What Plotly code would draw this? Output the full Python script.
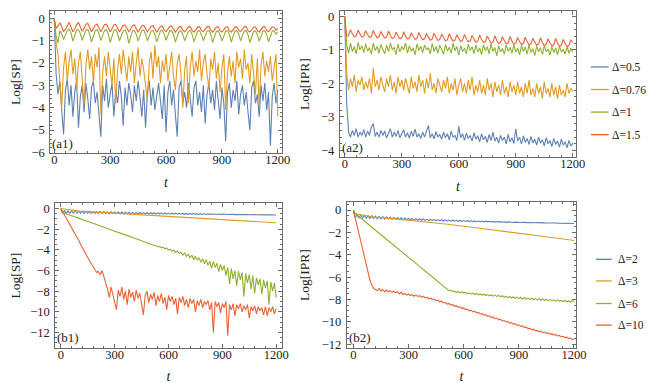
import plotly.graph_objects as go

# time grid of the sampled curves
T = list(range(0, 1201, 10))
T_COARSE = list(range(0, 1201, 100))

# ---------- (a1) Log[SP], Delta = 0.5, 0.76, 1, 1.5 ----------
a1_d05 = [0.0, -2.5, -3.4, -2.8, -4.1, -5.2, -3.2, -2.7, -3.9, -3.0,
          -4.4, -3.3, -2.8, -4.9, -3.5, -3.0, -4.2, -2.9, -3.6, -4.5,
          -3.1, -2.8, -3.8, -3.3, -4.3, -5.3, -3.0, -3.7, -2.7, -4.0,
          -3.4, -2.9, -4.4, -3.2, -3.8, -2.8, -3.5, -4.8, -3.1, -3.9,
          -2.9, -3.4, -4.2, -3.0, -3.7, -2.8, -3.5, -4.4, -3.2, -4.9,
          -3.3, -2.8, -3.9, -3.1, -4.1, -3.4, -2.9, -3.7, -4.5, -3.0,
          -5.1, -3.3, -2.8, -3.9, -3.2, -4.3, -5.3, -3.1, -2.8, -3.8,
          -3.3, -4.0, -2.9, -3.6, -4.4, -3.1, -2.8, -3.9, -3.3, -4.2,
          -3.0, -4.7, -3.4, -2.9, -3.8, -3.2, -4.1, -2.8, -3.6, -4.5,
          -3.1, -3.8, -5.5, -3.3, -2.9, -4.0, -3.2, -3.7, -2.8, -4.3,
          -3.4, -3.0, -3.9, -3.3, -4.2, -5.0, -3.1, -2.8, -3.8, -3.4,
          -4.4, -3.0, -3.7, -2.9, -4.1, -3.3, -5.7, -3.5, -2.9, -3.8,
          -3.2]
a1_d076 = [0.0, -1.1, -1.6, -2.6, -4.0, -2.2, -1.5, -2.8, -1.9, -1.4,
           -2.5, -1.8, -3.1, -2.0, -1.5, -2.7, -3.9, -2.1, -1.4, -2.3,
           -1.7, -2.9, -1.6, -2.2, -1.3, -4.3, -2.4, -1.7, -2.6, -1.5,
           -2.2, -3.0, -1.8, -3.8, -2.3, -1.6, -2.5, -1.4, -2.1, -2.8,
           -1.7, -2.4, -1.5, -2.9, -2.0, -1.3, -2.6, -1.8, -2.3, -3.0,
           -3.7, -2.0, -1.5, -2.7, -1.2, -2.2, -1.7, -2.9, -1.9, -2.4,
           -1.6, -2.8, -2.1, -1.5, -2.6, -3.2, -2.0, -1.6, -2.5, -4.0,
           -2.3, -1.7, -3.8, -2.2, -1.5, -2.6, -1.9, -2.4, -1.4, -2.8,
           -2.0, -1.6, -2.5, -3.1, -1.8, -2.3, -1.5, -2.7, -2.0, -3.3,
           -2.2, -1.6, -4.1, -2.4, -1.7, -2.6, -1.9, -2.9, -1.5, -2.2,
           -1.8, -2.7, -1.4, -2.3, -2.0, -2.9, -1.6, -2.4, -3.4, -1.8,
           -3.9, -2.1, -1.5, -2.6, -1.9, -2.4, -1.7, -2.8, -2.1, -1.6,
           -4.4]
a1_d1 = [0.0, -0.8, -1.1, -0.55, -0.7, -0.95, -0.75, -0.55, -0.48, -0.66,
         -1.02, -0.72, -0.52, -0.5, -0.68, -0.98, -0.7, -0.52, -0.5, -0.7,
         -1.05, -0.74, -0.55, -0.5, -0.68, -1.0, -0.72, -0.53, -0.52, -0.7,
         -1.08, -0.75, -0.55, -0.5, -0.69, -1.0, -0.76, -0.56, -0.52, -0.7,
         -1.12, -0.78, -0.56, -0.54, -0.72, -1.02, -0.75, -0.55, -0.52, -0.7,
         -1.0, -0.76, -0.57, -0.54, -0.72, -1.05, -0.77, -0.56, -0.53, -0.71,
         -0.98, -0.75, -0.56, -0.55, -0.72, -1.06, -0.78, -0.58, -0.55, -0.73,
         -1.0, -0.77, -0.57, -0.54, -0.72, -1.04, -0.78, -0.57, -0.55, -0.73,
         -1.0, -0.76, -0.56, -0.54, -0.72, -1.08, -0.78, -0.58, -0.56, -0.74,
         -1.02, -0.77, -0.57, -0.55, -0.73, -1.06, -0.78, -0.57, -0.55, -0.72,
         -1.0, -0.77, -0.56, -0.55, -0.73, -1.08, -0.78, -0.58, -0.56, -0.74,
         -1.02, -0.77, -0.57, -0.55, -0.73, -1.05, -0.78, -0.57, -0.55, -0.7,
         -0.6]
a1_d15 = [0.0, -0.45, -0.35, -0.2, -0.38, -0.58, -0.5, -0.3, -0.18, -0.4,
          -0.6, -0.48, -0.28, -0.2, -0.42, -0.58, -0.45, -0.27, -0.22, -0.44,
          -0.6, -0.46, -0.3, -0.25, -0.46, -0.6, -0.44, -0.28, -0.26, -0.47,
          -0.6, -0.47, -0.3, -0.27, -0.48, -0.61, -0.46, -0.31, -0.3, -0.49,
          -0.6, -0.48, -0.33, -0.3, -0.5, -0.62, -0.47, -0.34, -0.32, -0.5,
          -0.61, -0.48, -0.35, -0.33, -0.51, -0.62, -0.49, -0.36, -0.34, -0.52,
          -0.6, -0.48, -0.37, -0.35, -0.52, -0.62, -0.5, -0.38, -0.36, -0.53,
          -0.61, -0.5, -0.38, -0.37, -0.54, -0.62, -0.5, -0.39, -0.37, -0.54,
          -0.6, -0.49, -0.38, -0.36, -0.53, -0.62, -0.5, -0.39, -0.38, -0.55,
          -0.61, -0.5, -0.4, -0.38, -0.55, -0.62, -0.5, -0.39, -0.37, -0.54,
          -0.6, -0.49, -0.38, -0.37, -0.55, -0.61, -0.5, -0.4, -0.38, -0.55,
          -0.62, -0.5, -0.39, -0.37, -0.54, -0.6, -0.48, -0.38, -0.4, -0.52,
          -0.45]

# ---------- (a2) Log[IPR], Delta = 0.5, 0.76, 1, 1.5 ----------
a2_d05 = [0.0,
          -2.6, -3.45, -3.6, -3.4, -3.55, -3.35, -3.6, -3.45, -3.55, -3.38,
          -3.6, -3.42, -3.55, -3.3, -3.2, -3.58, -3.45, -3.6, -3.4, -3.55,
          -3.42, -3.62, -3.48, -3.35, -3.6, -3.45, -3.58, -3.4, -3.62, -3.5,
          -3.38, -3.6, -3.47, -3.63, -3.42, -3.58, -3.36, -3.6, -3.5, -3.64,
          -3.45, -3.6, -3.4, -3.25, -3.62, -3.5, -3.65, -3.44, -3.6, -3.52,
          -3.66, -3.45, -3.62, -3.5, -3.68, -3.42, -3.6, -3.55, -3.7, -3.28,
          -3.62, -3.5, -3.7, -3.48, -3.64, -3.55, -3.72, -3.47, -3.66, -3.56,
          -3.74, -3.5, -3.68, -3.58, -3.76, -3.52, -3.7, -3.45, -3.72, -3.6,
          -3.78, -3.55, -3.7, -3.6, -3.8, -3.52, -3.74, -3.62, -3.79, -3.35,
          -3.72, -3.6, -3.8, -3.56, -3.76, -3.64, -3.82, -3.58, -3.77, -3.66,
          -3.84, -3.6, -3.78, -3.68, -3.86, -3.62, -3.8, -3.7, -3.88, -3.64,
          -3.82, -3.72, -3.9, -3.66, -3.84, -3.74, -3.92, -3.7, -3.86, -3.78]
a2_d076 = [0.0,
           -1.7, -2.2, -1.85, -2.1, -1.75, -2.25, -1.9, -2.05, -1.8, -2.2,
           -1.95, -2.15, -1.85, -2.3, -1.55, -2.1, -1.9, -2.2, -1.8, -2.05,
           -2.25, -1.85, -2.1, -1.75, -2.2, -1.95, -2.3, -1.8, -2.1, -1.9,
           -2.2, -1.85, -2.05, -2.3, -1.8, -2.15, -1.95, -2.25, -1.75, -2.1,
           -1.9, -2.3, -1.85, -2.15, -1.7, -2.2, -2.0, -2.3, -1.85, -2.1,
           -2.25, -1.9, -2.15, -1.8, -2.3, -2.0, -2.2, -1.85, -2.35, -2.05,
           -1.85, -2.25, -2.0, -2.3, -1.9, -2.2, -1.8, -2.35, -2.05, -2.25,
           -1.9, -2.3, -2.05, -2.35, -1.85, -2.2, -2.0, -2.4, -1.95, -2.25,
           -2.05, -2.35, -1.9, -2.3, -2.1, -2.4, -1.95, -2.25, -2.05, -2.35,
           -1.95, -2.3, -2.1, -2.4, -2.0, -2.3, -1.9, -2.35, -2.15, -2.4,
           -2.0, -2.3, -2.1, -2.45, -1.95, -2.3, -2.15, -2.4, -2.0, -2.35,
           -2.1, -2.45, -2.05, -2.35, -2.2, -2.4, -2.0, -2.3, -2.15, -2.25]
a2_d1 = [-0.1,
         -0.85, -1.1, -0.8, -1.05, -0.9, -1.12, -0.78, -1.0, -0.88, -1.08,
         -0.82, -1.04, -0.93, -1.13, -0.8, -1.02, -0.9, -1.1, -0.84, -0.98,
         -1.12, -0.86, -1.05, -0.79, -1.0, -0.92, -1.14, -0.83, -1.06, -0.9,
         -1.0, -0.8, -1.1, -0.88, -1.04, -0.94, -1.15, -0.82, -1.02, -0.89,
         -1.08, -0.85, -1.0, -0.93, -1.12, -0.81, -1.05, -0.9, -1.1, -0.86,
         -0.99, -1.13, -0.84, -1.04, -0.92, -1.1, -0.8, -1.03, -0.9, -1.16,
         -0.87, -1.05, -0.95, -1.12, -0.83, -1.02, -0.91, -1.11, -0.86, -1.06,
         -0.94, -1.14, -0.85, -1.03, -0.9, -1.12, -0.82, -1.05, -0.93, -1.18,
         -0.88, -1.06, -0.96, -1.13, -0.86, -1.04, -0.92, -1.1, -0.84, -1.07,
         -0.95, -1.15, -0.87, -1.05, -0.91, -1.13, -0.85, -1.08, -0.96, -1.17,
         -0.89, -1.06, -0.93, -1.14, -0.87, -1.05, -0.98, -1.16, -0.9, -1.08,
         -0.94, -1.15, -0.88, -1.06, -0.99, -1.13, -0.9, -1.1, -0.95, -1.08]
a2_d15 = [0.0,
          -0.6, -0.57, -0.4, -0.52, -0.61, -0.58, -0.41, -0.53,
          -0.62, -0.59, -0.43, -0.54, -0.63, -0.6, -0.42, -0.55,
          -0.64, -0.61, -0.45, -0.56, -0.65, -0.62, -0.44, -0.57,
          -0.66, -0.63, -0.47, -0.58, -0.67, -0.64, -0.46, -0.59,
          -0.68, -0.65, -0.49, -0.6, -0.69, -0.66, -0.48, -0.61,
          -0.7, -0.67, -0.51, -0.62, -0.71, -0.68, -0.5, -0.63,
          -0.72, -0.69, -0.53, -0.64, -0.73, -0.7, -0.52, -0.65,
          -0.74, -0.71, -0.55, -0.66, -0.75, -0.72, -0.54, -0.67,
          -0.76, -0.73, -0.57, -0.68, -0.77, -0.74, -0.56, -0.69,
          -0.78, -0.75, -0.59, -0.7, -0.8, -0.77, -0.58, -0.72,
          -0.81, -0.78, -0.61, -0.73, -0.82, -0.79, -0.6, -0.74,
          -0.83, -0.8, -0.63, -0.75, -0.84, -0.81, -0.62, -0.76,
          -0.85, -0.82, -0.65, -0.77, -0.86, -0.83, -0.64, -0.78,
          -0.87, -0.84, -0.67, -0.79, -0.88, -0.85, -0.66, -0.8,
          -0.89, -0.86, -0.69, -0.81, -0.9, -0.87, -0.7, -0.78]

# ---------- (b1) Log[SP], Delta = 2, 3, 6, 10 ----------
b1_d2 = [0.0,
         -0.45, -0.2, -0.45, -0.22, -0.46, -0.22, -0.45, -0.24, -0.46, -0.24,
         -0.46, -0.25, -0.46, -0.26, -0.47, -0.27, -0.47, -0.28, -0.47, -0.29,
         -0.48, -0.3, -0.48, -0.3, -0.48, -0.31, -0.49, -0.32, -0.49, -0.33,
         -0.49, -0.33, -0.5, -0.34, -0.5, -0.35, -0.5, -0.36, -0.51, -0.37,
         -0.51, -0.37, -0.51, -0.38, -0.52, -0.39, -0.52, -0.4, -0.52, -0.4,
         -0.53, -0.41, -0.53, -0.42, -0.53, -0.42, -0.54, -0.43, -0.54, -0.44,
         -0.54, -0.45, -0.55, -0.45, -0.55, -0.46, -0.55, -0.47, -0.56, -0.47,
         -0.56, -0.48, -0.56, -0.49, -0.56, -0.5, -0.57, -0.5, -0.57, -0.51,
         -0.57, -0.52, -0.57, -0.52, -0.58, -0.53, -0.58, -0.53, -0.58, -0.54,
         -0.58, -0.55, -0.58, -0.55, -0.59, -0.56, -0.59, -0.56, -0.59, -0.57,
         -0.59, -0.57, -0.6, -0.58, -0.6, -0.58, -0.6, -0.59, -0.6, -0.59,
         -0.61, -0.6, -0.61, -0.6, -0.61, -0.61, -0.62, -0.61, -0.62, -0.62]
b1_d3 = [0.0, -0.25, -0.35, -0.45, -0.55, -0.65, -0.75, -0.85, -0.95, -1.05,
         -1.15, -1.27, -1.38]
b1_d6 = [0.0, -0.3, -0.45, -0.5, -0.58, -0.63, -0.7, -0.76, -0.82, -0.88,
         -0.93, -1.0, -1.06, -1.12, -1.19, -1.25, -1.31, -1.38, -1.44, -1.5,
         -1.56, -1.62, -1.69, -1.75, -1.81, -1.88, -1.94, -2.0, -2.07, -2.13,
         -2.18, -2.25, -2.31, -2.37, -2.44, -2.5, -2.55, -2.63, -2.68, -2.75,
         -2.8, -2.87, -2.93, -3.0, -3.05, -3.13, -3.17, -3.26, -3.3, -3.39,
         -3.42,
         -3.5, -3.58, -3.6, -3.7, -3.66, -3.8, -3.75, -3.88, -3.84, -4.0,
         -3.95, -4.12, -4.02, -4.25, -4.12, -4.35, -4.22, -4.5, -4.3, -4.62,
         -4.45, -4.75, -4.5, -4.95, -4.62, -5.0, -4.75, -5.2, -4.85, -5.35,
         -4.95, -5.5, -5.1, -5.8, -5.15, -5.7, -5.3, -6.1, -5.4, -6.0,
         -5.5, -6.5, -5.7, -7.3, -5.8, -6.8, -6.0, -7.5, -6.05, -6.9,
         -6.2, -8.5, -6.3, -7.2, -6.4, -7.8, -6.5, -8.2, -6.7, -7.4,
         -6.8, -8.3, -6.9, -7.7, -7.0, -9.3, -7.1, -8.0, -7.2, -8.6]
b1_d10 = [0.0, -0.3, -0.6, -0.9, -1.2, -1.5, -1.8, -2.1, -2.45, -2.8,
          -3.1, -3.45, -3.8, -4.1, -4.4, -4.75, -5.05, -5.35, -5.6, -5.95,
          -6.2, -6.1, -6.4, -6.0, -6.5, -7.2,
          -7.8, -8.6, -7.6, -8.3, -9.0, -9.8, -7.9, -8.5, -7.6, -8.8,
          -8.0, -9.3, -7.8, -8.6, -8.1, -9.0, -7.9, -8.7, -8.2, -9.5,
          -10.3, -8.4, -8.0, -9.1, -8.3, -8.8, -8.1, -9.4, -8.4, -9.0,
          -8.2, -9.2, -8.6, -9.8, -8.4, -9.0, -8.5, -9.3, -8.7, -10.2,
          -8.6, -9.1, -8.5, -9.4, -8.8, -9.6, -8.7, -9.2, -8.8, -10.0,
          -8.9, -9.4, -8.8, -9.6, -9.0, -9.3, -8.9, -9.8, -9.1, -12.0,
          -9.0, -9.5, -9.1, -10.1, -9.2, -9.6, -9.0, -12.3, -9.3, -9.8,
          -9.2, -10.4, -9.3, -9.7, -9.2, -10.0, -9.4, -9.8, -9.3, -10.6,
          -9.5, -9.9, -9.4, -10.2, -9.5, -9.9, -9.6, -10.3, -9.5, -10.4,
          -9.6, -10.0, -9.5, -10.2, -9.7]

# ---------- (b2) Log[IPR], Delta = 2, 3, 6, 10 ----------
b2_d2 = [0.0,
         -0.68, -0.4, -0.7, -0.44, -0.72, -0.47, -0.73, -0.5, -0.75, -0.52,
         -0.77, -0.55, -0.78, -0.57, -0.8, -0.6, -0.81, -0.62, -0.82, -0.64,
         -0.84, -0.66, -0.85, -0.68, -0.86, -0.7, -0.87, -0.72, -0.88, -0.74,
         -0.89, -0.75, -0.9, -0.77, -0.91, -0.78, -0.92, -0.8, -0.93, -0.81,
         -0.94, -0.83, -0.95, -0.84, -0.96, -0.86, -0.97, -0.87, -0.98, -0.88,
         -0.99, -0.9, -1.0, -0.91, -1.0, -0.92, -1.01, -0.93, -1.02, -0.94,
         -1.02, -0.95, -1.03, -0.96, -1.04, -0.97, -1.04, -0.98, -1.05, -0.99,
         -1.06, -1.0, -1.06, -1.01, -1.07, -1.02, -1.08, -1.03, -1.08, -1.04,
         -1.09, -1.05, -1.1, -1.06, -1.1, -1.07, -1.11, -1.08, -1.11, -1.09,
         -1.12, -1.1, -1.13, -1.11, -1.13, -1.12, -1.14, -1.13, -1.14, -1.13,
         -1.15, -1.14, -1.15, -1.15, -1.16, -1.15, -1.16, -1.16, -1.17, -1.16,
         -1.17, -1.17, -1.18, -1.17, -1.18, -1.18, -1.19, -1.18, -1.19, -1.2]
b2_d3 = [-0.3, -0.6, -0.75, -0.9, -1.05, -1.25, -1.45, -1.65, -1.85, -2.05,
         -2.25, -2.5, -2.72]
b2_d6 = [0.0, -0.3, -0.45, -0.58, -0.72, -0.85, -0.99, -1.12, -1.26, -1.4,
         -1.53, -1.67, -1.8, -1.94, -2.07, -2.21, -2.34, -2.48, -2.61, -2.75,
         -2.88, -3.02, -3.15, -3.29, -3.42, -3.56, -3.69, -3.83, -3.96, -4.1,
         -4.23, -4.37, -4.5, -4.64, -4.77, -4.91, -5.04, -5.18, -5.31, -5.45,
         -5.58, -5.72, -5.85, -5.99, -6.12, -6.26, -6.4, -6.55, -6.68, -6.8,
         -6.95,
         -7.05, -7.2, -7.15, -7.3, -7.25, -7.35, -7.28, -7.4, -7.32, -7.42,
         -7.36, -7.48, -7.4, -7.52, -7.42, -7.55, -7.46, -7.58, -7.5, -7.6,
         -7.52, -7.64, -7.55, -7.66, -7.57, -7.7, -7.6, -7.72, -7.63, -7.75,
         -7.66, -7.8, -7.7, -7.83, -7.72, -7.86, -7.75, -7.9, -7.78, -7.92,
         -7.8, -7.95, -7.82, -7.98, -7.85, -8.0, -7.88, -8.02, -7.9, -8.05,
         -7.92, -8.06, -7.95, -8.08, -7.97, -8.1, -8.0, -8.12, -8.02, -8.14,
         -8.04, -8.16, -8.06, -8.18, -8.08, -8.2, -8.1, -8.22, -8.1, -8.2]
b2_d10 = [0.0, -0.7, -1.4, -2.1, -2.85, -3.6, -4.3, -5.0, -5.65, -6.25,
          -6.7, -7.0, -7.1,
          -7.2, -7.0, -7.25, -7.1, -7.3, -7.15, -7.3, -7.2,
          -7.35, -7.25, -7.4, -7.3, -7.5, -7.35, -7.55, -7.45, -7.6, -7.5,
          -7.65, -7.55, -7.7, -7.6, -7.72, -7.65, -7.8, -7.7, -7.85, -7.78,
          -7.95, -7.85, -8.0, -7.95, -8.1, -8.05, -8.2, -8.15, -8.3, -8.25,
          -8.4, -8.35, -8.5, -8.45, -8.6, -8.55, -8.7, -8.65, -8.8, -8.75,
          -8.9, -8.85, -9.0, -8.95, -9.1, -9.05, -9.2, -9.15, -9.3, -9.25,
          -9.4, -9.35, -9.5, -9.45, -9.6, -9.55, -9.7, -9.65, -9.82, -9.75,
          -9.9, -9.85, -10.0, -9.95, -10.1, -10.05, -10.2, -10.15, -10.3, -10.25,
          -10.4, -10.35, -10.5, -10.45, -10.6, -10.55, -10.7, -10.65, -10.78, -10.75,
          -10.88, -10.82, -10.95, -10.9, -11.02, -10.98, -11.1, -11.05, -11.18, -11.12,
          -11.25, -11.2, -11.32, -11.28, -11.4, -11.35, -11.48, -11.42, -11.58, -11.55]

top_labels = ["Δ=0.5", "Δ=0.76", "Δ=1", "Δ=1.5"]
bottom_labels = ["Δ=2", "Δ=3", "Δ=6", "Δ=10"]
panel_tags = ["(a1)", "(a2)", "(b1)", "(b2)"]
ytitles = ["Log[SP]", "Log[IPR]", "Log[SP]", "Log[IPR]"]

COLORS = ["#5E81B5", "#E19C24", "#8FB032", "#EB6235"]
FRAME = "#6a6a6a"
FONT = "Liberation Serif"
W, H = 654, 383

panels = [
    ("x", "y", [(T, a1_d05), (T, a1_d076), (T, a1_d1), (T, a1_d15)]),
    ("x2", "y2", [(T, a2_d05), (T, a2_d076), (T, a2_d1), (T, a2_d15)]),
    ("x3", "y3", [(T, b1_d2), (T_COARSE, b1_d3), (T, b1_d6), (T, b1_d10)]),
    ("x4", "y4", [(T, b2_d2), (T_COARSE, b2_d3), (T, b2_d6), (T, b2_d10)]),
]
names = [top_labels, top_labels, bottom_labels, bottom_labels]

fig = go.Figure()
for (xa, ya, series), labs in zip(panels, names):
    for (xs, ys), c, lab in zip(series, COLORS, labs):
        fig.add_trace(go.Scatter(x=xs, y=ys, mode="lines", name=lab, xaxis=xa, yaxis=ya,
                                 line=dict(color=c, width=1.1), showlegend=False))


def px2x(a, b):
    return [a / W, b / W]


def px2y(top, bottom):
    return [1 - bottom / H, 1 - top / H]


def xaxis(dom, anchor, rng):
    return dict(domain=dom, anchor=anchor, range=rng, tick0=0, dtick=300,
                ticks="inside", ticklen=4, tickcolor=FRAME, tickwidth=1,
                minor=dict(dtick=60, ticks="inside", ticklen=2, tickcolor=FRAME),
                showline=True, linecolor=FRAME, linewidth=1, mirror="allticks",
                showgrid=False, zeroline=False, ticklabelstandoff=-5,
                tickfont=dict(family=FONT, size=12.5, color="#222"),
                title=dict(text="<i>t</i>", standoff=10,
                           font=dict(family=FONT, size=14, color="#222")))


def yaxis(dom, anchor, rng, dt, mdt, title):
    return dict(domain=dom, anchor=anchor, range=rng, tick0=0, dtick=dt,
                ticks="inside", ticklen=4, tickcolor=FRAME, tickwidth=1,
                minor=dict(dtick=mdt, ticks="inside", ticklen=2, tickcolor=FRAME),
                showline=True, linecolor=FRAME, linewidth=1, mirror="allticks",
                showgrid=False, zeroline=False, ticklabelstandoff=2,
                tickfont=dict(family=FONT, size=12.5, color="#222"),
                title=dict(text=title, standoff=8,
                           font=dict(family=FONT, size=13.5, color="#222")))


fig.update_layout(
    width=W, height=H, margin=dict(l=0, r=0, t=0, b=0),
    paper_bgcolor="white", plot_bgcolor="white",
    font=dict(family=FONT, color="#222"),
    xaxis=xaxis(px2x(43, 278), "y", [-21, 1221]),
    yaxis=yaxis(px2y(2, 147), "x", [-6.04, 0.33], 1, 0.2, ytitles[0]),
    xaxis2=xaxis(px2x(337, 577), "y2", [-26, 1218]),
    yaxis2=yaxis(px2y(2, 151), "x2", [-4.2, 0.16], 1, 0.2, ytitles[1]),
    xaxis3=xaxis(px2x(48, 278), "y3", [-31, 1231]),
    yaxis3=yaxis(px2y(198, 345), "x3", [-13.47, 0.5], 2, 0.5, ytitles[2]),
    xaxis4=xaxis(px2x(344, 577), "y4", [-36, 1212]),
    yaxis4=yaxis(px2y(197, 345), "x4", [-12.3, 0.68], 2, 0.5, ytitles[3]),
)

# panel tags in the lower-left corners
for i, tag in enumerate(panel_tags):
    sfx = "" if i == 0 else str(i + 1)
    fig.add_annotation(text=tag, xref="x%s domain" % sfx, yref="y%s domain" % sfx,
                       x=0.0, y=0.005, xanchor="left", yanchor="bottom", showarrow=False,
                       font=dict(family=FONT, size=13, color="#222"))

# legends drawn beside the right-hand panels
legend_rows = [
    (top_labels, [59, 82, 105, 128], 592, 610, 611),
    (bottom_labels, [255, 277, 300, 322], 597, 613, 617),
]
for labels, ys, x0, x1, xt in legend_rows:
    for lab, c, yp in zip(labels, COLORS, ys):
        yy = 1 - yp / H
        fig.add_shape(type="line", xref="paper", yref="paper", x0=x0 / W, x1=x1 / W,
                      y0=yy, y1=yy, line=dict(color=c, width=1.3))
        fig.add_annotation(text=lab, xref="paper", yref="paper", x=xt / W, y=yy,
                           xanchor="left", yanchor="middle", showarrow=False,
                           font=dict(family=FONT, size=11.5, color="#222"))

fig.write_html("out.html")
